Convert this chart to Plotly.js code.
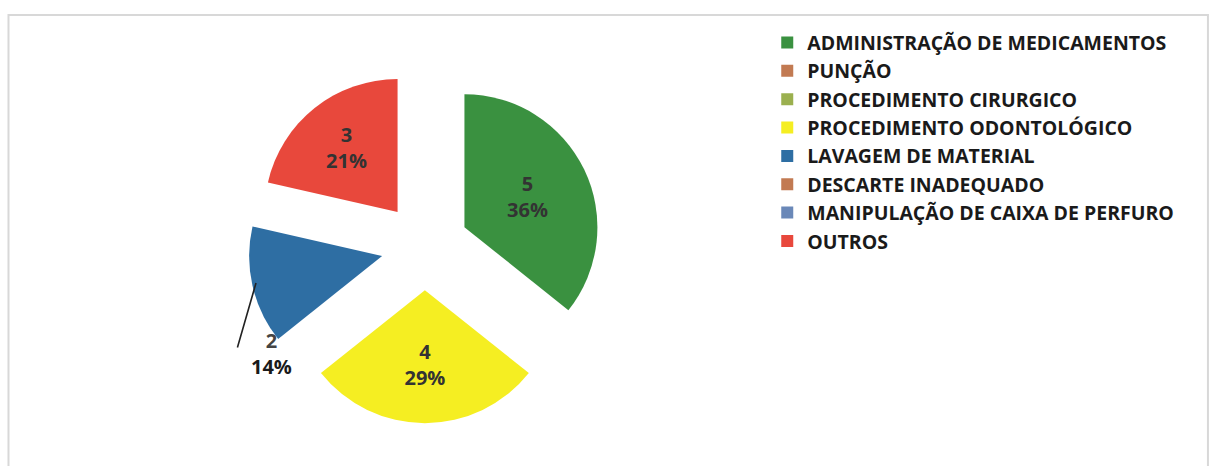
<!DOCTYPE html>
<html>
<head>
<meta charset="utf-8">
<script src="https://cdn.plot.ly/plotly-3.0.1.min.js"></script>
<style>html,body{margin:0;padding:0;background:#fff;}#chart{width:1214px;height:466px;}</style>
</head>
<body>
<div id="chart"></div>
<script>
const categories = [
  "ADMINISTRAÇÃO DE MEDICAMENTOS",
  "PUNÇÃO",
  "PROCEDIMENTO CIRURGICO",
  "PROCEDIMENTO ODONTOLÓGICO",
  "LAVAGEM DE MATERIAL",
  "DESCARTE INADEQUADO",
  "MANIPULAÇÃO DE CAIXA DE PERFURO",
  "OUTROS"
];
const counts = [5, 0, 0, 4, 2, 0, 0, 3];
const colors = ["#3a9140", "#c27a52", "#9bb04f", "#f5ee22", "#2e6ea3", "#c27a52", "#6a88b8", "#e8483c"];
// the small slice's label is drawn outside with a leader line
const textPositions = ["inside", "inside", "inside", "inside", "none", "inside", "inside", "inside"];
const outsideIndex = 4;

const total = counts.reduce((a, b) => a + b, 0);
const outsideText = "<span style='color:#444'>" + counts[outsideIndex] + "</span><br>" +
  Math.round(100 * counts[outsideIndex] / total) + "%";

const labelFont = {family: "Open Sans, Lato, sans-serif", size: 20, color: "#333", weight: "bold"};

const trace = {
  type: "pie",
  labels: categories,
  values: counts,
  sort: false,
  direction: "clockwise",
  rotation: 0,
  pull: 0.33,
  marker: {colors: colors, line: {width: 0}},
  texttemplate: "%{value}<br>%{percent:.0%}",
  textposition: textPositions,
  insidetextorientation: "horizontal",
  insidetextfont: labelFont,
  domain: {x: [0.204, 0.496], y: [0.092, 0.851]},
  hoverinfo: "label+value+percent"
};

const layout = {
  width: 1214,
  height: 466,
  margin: {l: 0, r: 0, t: 0, b: 0},
  paper_bgcolor: "#fff",
  showlegend: true,
  legend: {
    x: 0.632, y: 0.95, xanchor: "left", yanchor: "top",
    font: {family: "Open Sans, Lato, sans-serif", size: 19.5, color: "#1a1a1a", weight: "bold"},
    tracegroupgap: 0, itemclick: false
  },
  annotations: [
    {
      xref: "paper", yref: "paper",
      x: 256 / 1214, y: 1 - 283 / 466,
      ax: -19, ay: 66, axref: "pixel", ayref: "pixel",
      text: "", showarrow: true, arrowhead: 0, arrowwidth: 1.6, arrowcolor: "#222"
    },
    {
      xref: "paper", yref: "paper",
      x: 271 / 1214, y: 1 - 353 / 466,
      xanchor: "center", yanchor: "middle",
      text: outsideText, showarrow: false,
      font: {family: "Open Sans, Lato, sans-serif", size: 20, color: "#1a1a1a", weight: "bold"},
      align: "center"
    }
  ],
  shapes: [{
    type: "rect", xref: "paper", yref: "paper",
    x0: 0.007, x1: 0.995, y0: -0.01, y1: 0.968,
    line: {color: "#d8d8d8", width: 2}
  }]
};

Plotly.newPlot("chart", [trace], layout, {displayModeBar: false, staticPlot: true});
</script>
</body>
</html>
